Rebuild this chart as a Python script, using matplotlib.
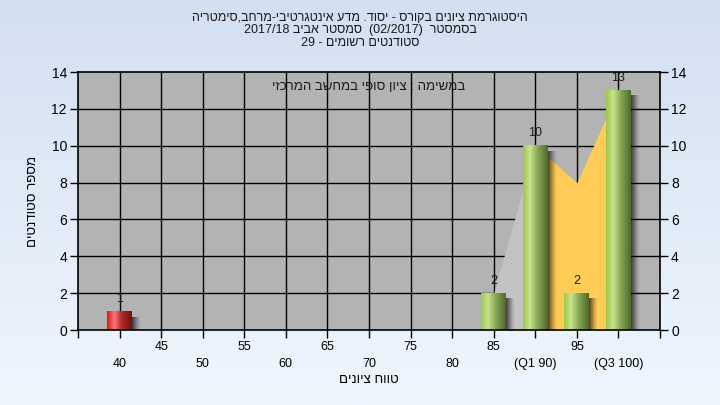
import re
import numpy as np
import matplotlib
matplotlib.use("Agg")
import matplotlib.pyplot as plt
from matplotlib.colors import LinearSegmentedColormap

plt.rcParams['font.family'] = ['Liberation Sans', 'DejaVu Sans']

# data
categories = [40, 45, 50, 55, 60, 65, 70, 75, 80, 85, 90, 95, 100]
tick_labels = ['40', '45', '50', '55', '60', '65', '70', '75', '80', '85', '(Q1 90)', '95', '(Q3 100)']
counts = [1, 0, 0, 0, 0, 0, 0, 0, 0, 2, 10, 2, 13]
fail_limit = 55
trend_cats = [85, 90, 95, 100]
trend_vals = [2, 10, 8, 13]

title_lines = ['היסטוגרמת ציונים בקורס - יסוד. מדע אינטגרטיבי-מרחב,סימטריה',
               'בסמסטר  (02/2017)  סמסטר אביב 2017/18',
               'סטודנטים רשומים - 29']
note_text = 'במשימה : ציון סופי במחשב המרכזי'
xlabel_text = 'טווח ציונים'
ylabel_text = 'מספר סטודנטים'


def rtl(s):
    # crude bidi: flip the whole string, then put latin/digit runs back in order
    r = s[::-1]
    r = re.sub(r'[0-9A-Za-z/]+', lambda m: m.group(0)[::-1], r)
    return r.translate(str.maketrans('()', ')('))


green = LinearSegmentedColormap.from_list('g', [(0, '#9cc84a'), (0.28, '#c8e48c'),
                                                (0.6, '#86a653'), (1, '#4f6a2a')])
red = LinearSegmentedColormap.from_list('r', [(0, '#e81414'), (0.3, '#f77a7a'),
                                              (0.6, '#b02828'), (1, '#6e1414')])

fig = plt.figure(figsize=(7.2, 4.05), dpi=100)

# background gradient
bg = fig.add_axes([0, 0, 1, 1], zorder=-10)
grad = np.linspace(0, 1, 256).reshape(-1, 1)
bg.imshow(grad, aspect='auto', cmap=LinearSegmentedColormap.from_list('bg', ['#d3e0f1', '#eff6fe']),
          extent=[0, 1, 0, 1])
bg.axis('off')

ax = fig.add_axes([78 / 720, 75 / 405, 582 / 720, 258 / 405])
ax.set_facecolor('#b3b3b3')
xpos = np.arange(len(categories))
idx = {c: i for i, c in enumerate(categories)}

for y in range(2, 14, 2):
    ax.axhline(y, color='black', lw=1.0, zorder=1)
for x in xpos:
    ax.axvline(x, color='black', lw=1.0, zorder=1)

tx = np.array([idx[c] for c in trend_cats], dtype=float)
ty = np.array(trend_vals, dtype=float)
ax.fill_between(tx[:2], 0, ty[:2], color='#c3c3c3', lw=0, zorder=2)
ax.fill_between(tx[1:], 0, ty[1:], color='#ffcc55', lw=0, zorder=2)

w = 0.6
g = np.linspace(0, 1, 64).reshape(1, -1)
shade = np.zeros((1, 32, 4))
shade[..., 3] = np.linspace(0.75, 0.0, 32) ** 1.3
for i, (c, v) in enumerate(zip(categories, counts)):
    if v == 0:
        continue
    # soft drop shadow on the right of each bar
    ax.imshow(shade, aspect='auto', extent=[i + w / 2, i + w / 2 + 0.2, -0.3, v - 0.3],
              interpolation='bilinear', zorder=3)
    cm = red if c < fail_limit else green
    ax.imshow(g, cmap=cm, aspect='auto', extent=[i - w / 2, i + w / 2, 0, v], zorder=4)
    ax.annotate(str(v), (i, v), xytext=(0, 9), textcoords='offset points',
                ha='center', va='center', fontsize=9, color='#1a1a1a', zorder=5)

ax.set_xlim(-1, 13)
ax.set_ylim(0, 14)
ax.set_yticks(range(0, 15, 2))
ax.tick_params(axis='y', labelsize=10, length=6, width=1, direction='out',
               right=True, labelright=True, pad=2)
ax.set_xticks(list(xpos) + [-1, 13])
labs = [t if i % 2 else '\n' + t for i, t in enumerate(tick_labels)] + ['', '']
ax.set_xticklabels(labs, fontsize=9, linespacing=1.55)
ax.tick_params(axis='x', length=6, width=1, direction='out', pad=2)
for s in ax.spines.values():
    s.set_color('black')
    s.set_linewidth(1.2)
    s.set_zorder(6)

ax.text(0.5, 0.94, rtl(note_text), transform=ax.transAxes, ha='center', va='center',
        fontsize=9.5, color='#1a1a1a')
ax.set_xlabel(rtl(xlabel_text), fontsize=9.5, labelpad=3)
ax.set_ylabel(rtl(ylabel_text), fontsize=9.5, labelpad=9)

for k, line in enumerate(title_lines):
    fig.text(0.5, 1 - (18 + 12.5 * k) / 405, rtl(line), ha='center', va='center',
             fontsize=9, color='#1a1a1a')

fig.savefig('out.png', dpi=100)
